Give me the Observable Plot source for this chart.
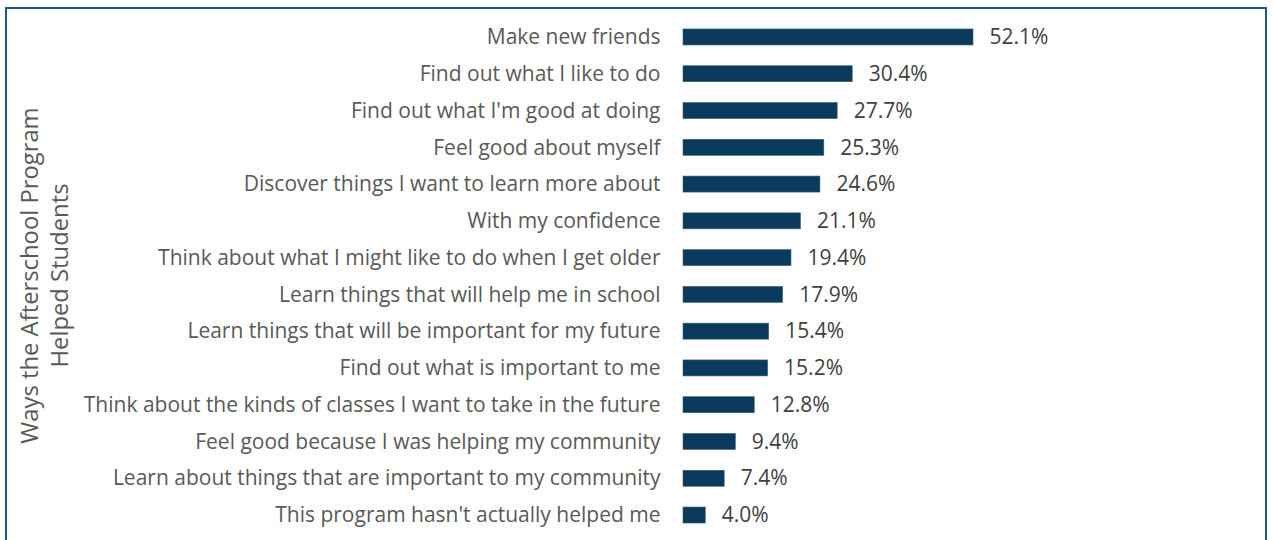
<!DOCTYPE html>
<html>
<head>
<meta charset="utf-8">
<script src="https://cdn.jsdelivr.net/npm/d3@7"></script>
<script src="https://cdn.jsdelivr.net/npm/@observablehq/plot@0.6"></script>
<style>
  html, body { margin: 0; padding: 0; background: #fff; overflow: hidden; }
  #frame { position: absolute; left: 5px; top: 7px; width: 1262px; height: 600px; border: 2px solid #1d5a88; box-sizing: border-box; }
  #chart { position: absolute; left: 0; top: 0; }
</style>
</head>
<body>
<div id="frame"></div>
<div id="chart"></div>
<script>
const categories = [
  "Make new friends",
  "Find out what I like to do",
  "Find out what I'm good at doing",
  "Feel good about myself",
  "Discover things I want to learn more about",
  "With my confidence",
  "Think about what I might like to do when I get older",
  "Learn things that will help me in school",
  "Learn things that will be important for my future",
  "Find out what is important to me",
  "Think about the kinds of classes I want to take in the future",
  "Feel good because I was helping my community",
  "Learn about things that are important to my community",
  "This program hasn't actually helped me"
];
const values = [52.1, 30.4, 27.7, 25.3, 24.6, 21.1, 19.4, 17.9, 15.4, 15.2, 12.8, 9.4, 7.4, 4.0];
const axisTitle = "Ways the Afterschool Program\nHelped Students";

const data = categories.map((c, i) => ({category: c, value: values[i]}));
const font = "'Open Sans', sans-serif";

const chart = Plot.plot({
  width: 1273,
  height: 540,
  marginLeft: 683,
  marginRight: 0,
  marginTop: 0,
  marginBottom: 0,
  style: {fontFamily: font, background: "transparent"},
  x: {domain: [0, 106], range: [683, 683 + 106 * 5.566], axis: null},
  y: {domain: categories, range: [8.2, 543.8], padding: 0.565, round: false, label: null},
  marks: [
    Plot.barX(data, {x: "value", y: "category", fill: "#0b3b5c", stroke: "#36607f", strokeWidth: 0.6}),
    Plot.ruleX([0], {y1: 18, y2: 535, stroke: "#d9d9d9", strokeWidth: 2, dx: -1}),
    Plot.axisY({tickSize: 0, tickPadding: 23, fontSize: 21, color: "#595959", label: null}),
    Plot.text(data, {x: "value", y: "category", text: d => d.value.toFixed(1) + "%", textAnchor: "start", dx: 16, fontSize: 21, fill: "#404040"}),
    Plot.text([axisTitle], {frameAnchor: "left", dx: -683 + 43, dy: 5, rotate: -90, fontSize: 23.8, fill: "#595959", lineHeight: 1.25, textAnchor: "middle"})
  ]
});
document.getElementById("chart").appendChild(chart);
</script>
</body>
</html>
